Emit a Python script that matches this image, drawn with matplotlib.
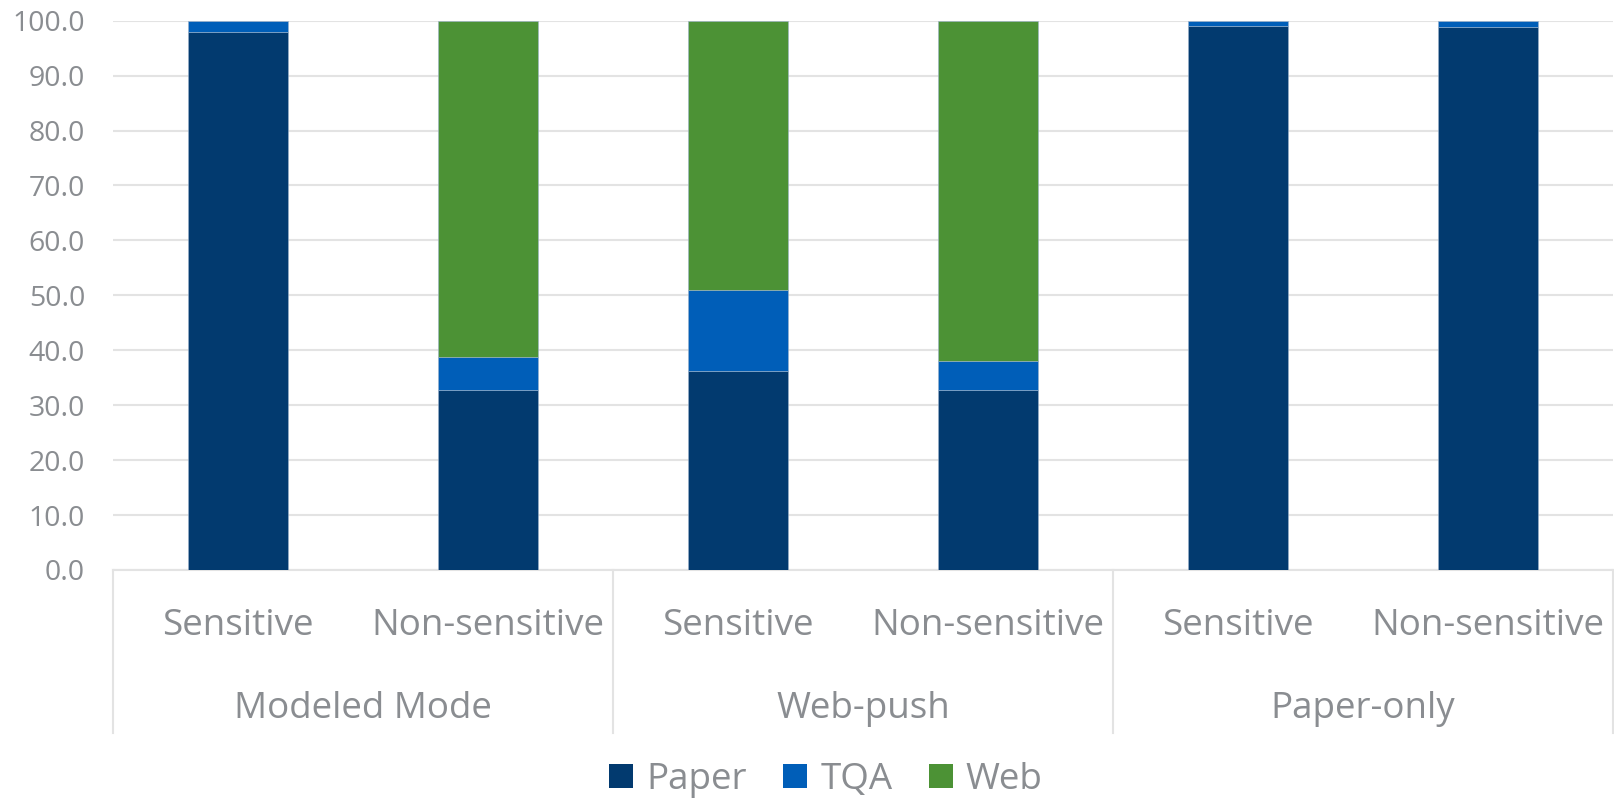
import matplotlib.pyplot as plt
from matplotlib.lines import Line2D
from matplotlib.patches import Patch
import matplotlib.transforms as mtransforms
import numpy as np

# data
GROUPS = ["Modeled Mode", "Web-push", "Paper-only"]
SUBCATS = ["Sensitive", "Non-sensitive"]
PAPER = [98.0, 32.8, 36.2, 32.7, 99.0, 98.8]
TQA = [2.0, 5.9, 14.7, 5.4, 1.0, 1.2]
WEB = [0.0, 61.3, 49.1, 61.9, 0.0, 0.0]
SERIES = ["Paper", "TQA", "Web"]
COLORS = ["#023A6F", "#005EB8", "#4C9235"]
TEXT_COLOR = "#8A8D91"
GRID_COLOR = "#E3E3E3"

plt.rcParams["font.family"] = ["Open Sans", "DejaVu Sans"]

fig = plt.figure(figsize=(16.15, 7.99), dpi=100)
ax = fig.add_axes([113 / 1615, 1 - 570 / 799, 1500 / 1615, (570 - 20.7) / 799])

x = np.arange(len(PAPER))
bottom = np.zeros(len(PAPER))
for name, vals, col in zip(SERIES, [PAPER, TQA, WEB], COLORS):
    vals = np.asarray(vals)
    ax.bar(x, vals, width=0.4, bottom=bottom, color=col, edgecolor="#9DB3CC",
           linewidth=0.4, label=name, zorder=3)
    bottom += vals

ax.set_xlim(-0.5, len(PAPER) - 0.5)
ax.set_ylim(0, 100)
ax.set_yticks(np.arange(0, 101, 10))
ax.set_yticklabels([f"{v:.1f}" for v in np.arange(0, 101, 10)])
ax.yaxis.grid(True, color=GRID_COLOR, linewidth=1.5, zorder=0)
ax.tick_params(axis="y", length=0, pad=20, labelsize=20.5, labelcolor=TEXT_COLOR)
ax.set_xticks([])
for s in ["top", "right", "left"]:
    ax.spines[s].set_visible(False)
ax.spines["bottom"].set_color(GRID_COLOR)
ax.spines["bottom"].set_linewidth(1.5)

# two-level category axis
trans = mtransforms.blended_transform_factory(ax.transData, fig.transFigure)
sub_y = 1 - 626 / 799
grp_y = 1 - 709 / 799
for i in x:
    ax.text(i, sub_y, SUBCATS[i % 2], transform=trans, ha="center", va="center",
            fontsize=26.5, color=TEXT_COLOR)
for g, name in enumerate(GROUPS):
    ax.text(2 * g + 0.5, grp_y, name, transform=trans, ha="center", va="center",
            fontsize=26.5, color=TEXT_COLOR)
for xs in [-0.5, 1.5, 3.5, 5.5]:
    ax.add_line(Line2D([xs, xs], [1 - 570 / 799, 1 - 733 / 799], transform=trans,
                       color=GRID_COLOR, linewidth=1.5, clip_on=False))

handles = [Patch(facecolor=c, label=n) for n, c in zip(SERIES, COLORS)]
fig.legend(handles=handles, loc="center", bbox_to_anchor=(826 / 1615, 1 - 780 / 799),
           ncol=3, frameon=False, fontsize=26.5, labelcolor=TEXT_COLOR,
           handlelength=0.65, handleheight=0.65, handletextpad=0.35, columnspacing=1.0)

fig.savefig("out.png", dpi=100)
